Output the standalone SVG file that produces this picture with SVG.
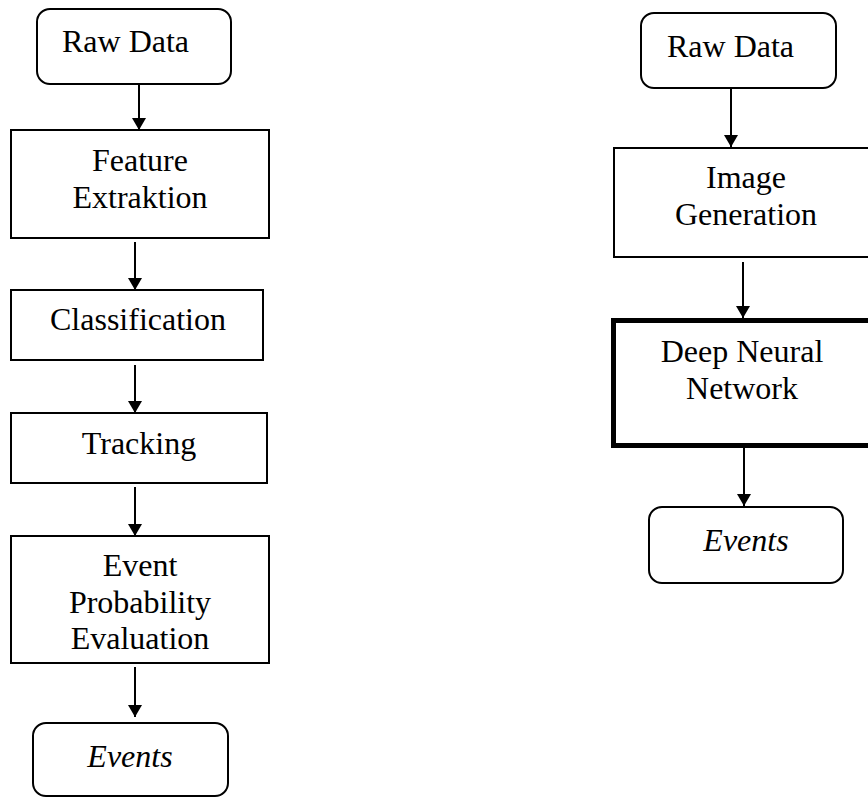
<svg xmlns="http://www.w3.org/2000/svg" width="868" height="797" viewBox="0 0 868 797">
<defs>
<marker id="ah" markerUnits="userSpaceOnUse" markerWidth="12" markerHeight="14" refX="12" refY="7" orient="auto" viewBox="0 0 12 14">
<path d="M0,0 L12,7 L0,14 z" fill="#000"/>
</marker>
<style>
.box{fill:#fff;stroke:#000;stroke-width:2}
.thick{fill:#fff;stroke:#000;stroke-width:5}
.t{font-family:"Liberation Serif","Times New Roman",serif;font-size:32px;fill:#000;text-anchor:middle}
.ts{font-family:"Liberation Serif","Times New Roman",serif;font-size:32px;fill:#000}
.i{font-style:italic}
.c{stroke:#000;stroke-width:2;fill:none;marker-end:url(#ah)}
</style>
</defs>
<rect width="868" height="797" fill="#fff"/>
<g id="connectors">
<line class="c" x1="139" y1="84" x2="139" y2="130"/>
<line class="c" x1="135" y1="242" x2="135" y2="290"/>
<line class="c" x1="135" y1="365" x2="135" y2="413"/>
<line class="c" x1="135" y1="487" x2="135" y2="536"/>
<line class="c" x1="135" y1="667" x2="135" y2="717"/>
<line class="c" x1="731" y1="88" x2="731" y2="147"/>
<line class="c" x1="743" y1="262" x2="743" y2="318"/>
<line class="c" x1="744" y1="448" x2="744" y2="506"/>
</g>
<g id="raw-data-left">
<rect class="box" x="37" y="9" width="194" height="75" rx="13"/>
<text class="ts" x="62" y="52">Raw Data</text>
</g>
<g id="feature-extraktion">
<rect class="box" x="11" y="130" width="258" height="108"/>
<text class="t" x="140" y="171">Feature</text>
<text class="t" x="140" y="208">Extraktion</text>
</g>
<g id="classification">
<rect class="box" x="11" y="290" width="252" height="70"/>
<text class="t" x="138" y="330">Classification</text>
</g>
<g id="tracking">
<rect class="box" x="11" y="413" width="256" height="70"/>
<text class="t" x="139" y="454">Tracking</text>
</g>
<g id="event-probability-evaluation">
<rect class="box" x="11" y="536" width="258" height="127"/>
<text class="t" x="140" y="576">Event</text>
<text class="t" x="140" y="613">Probability</text>
<text class="t" x="140" y="649">Evaluation</text>
</g>
<g id="events-left">
<rect class="box" x="33" y="723" width="195" height="73" rx="13"/>
<text class="t i" x="130" y="767">Events</text>
</g>
<g id="raw-data-right">
<rect class="box" x="641" y="13" width="195" height="75" rx="13"/>
<text class="ts" x="667" y="57">Raw Data</text>
</g>
<g id="image-generation">
<rect class="box" x="614" y="148" width="270" height="109"/>
<text class="t" x="746" y="188">Image</text>
<text class="t" x="746" y="225">Generation</text>
</g>
<g id="deep-neural-network">
<rect class="thick" x="613.5" y="320.5" width="270" height="125"/>
<text class="t" x="742" y="362">Deep Neural</text>
<text class="t" x="742" y="399">Network</text>
</g>
<g id="events-right">
<rect class="box" x="649" y="507" width="194" height="76" rx="13"/>
<text class="t i" x="746" y="551">Events</text>
</g>
</svg>
